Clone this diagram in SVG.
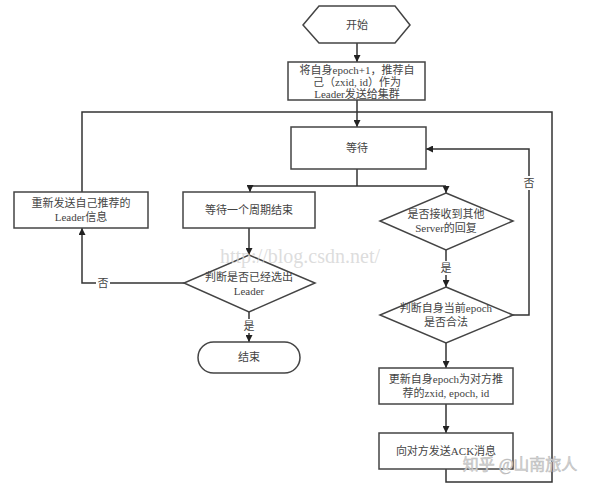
<svg xmlns="http://www.w3.org/2000/svg" width="600" height="488" viewBox="0 0 600 488">
<defs>
<marker id="arr" viewBox="0 0 10 10" refX="10" refY="5" markerWidth="7" markerHeight="7" markerUnits="userSpaceOnUse" orient="auto">
<path d="M0,0 L10,5 L0,10 z" fill="#222"/>
</marker>
<style>
.shape{fill:#fff;stroke:#444;stroke-width:1.5}
.line{fill:none;stroke:#333;stroke-width:1.5}
.t{font-family:"Liberation Serif","Noto Sans CJK SC",serif;font-size:11px;fill:#444;text-anchor:middle}
.wm{font-family:"Liberation Serif","Noto Sans CJK SC",serif;fill:#d4d4d4}
</style>
</defs>
<rect width="600" height="488" fill="#fff"/>
<g id="connectors">
<path class="line" d="M357,43 V62" marker-end="url(#arr)"/>
<path class="line" d="M357,100 V127" marker-end="url(#arr)"/>
<path class="line" d="M82,192 V112 H552 V482 H446 V469"/>
<path class="line" d="M357,169 V186"/>
<path class="line" d="M250,186 H446"/>
<path class="line" d="M250,186 V192" marker-end="url(#arr)"/>
<path class="line" d="M446,186 V193" marker-end="url(#arr)"/>
<path class="line" d="M249,228 V255" marker-end="url(#arr)"/>
<path class="line" d="M184,283 H82 V228" marker-end="url(#arr)"/>
<path class="line" d="M249,312 V342" marker-end="url(#arr)"/>
<path class="line" d="M446,250 V287" marker-end="url(#arr)"/>
<path class="line" d="M513,315 H529 V149 H426" marker-end="url(#arr)"/>
<path class="line" d="M446,343 V368" marker-end="url(#arr)"/>
<path class="line" d="M446,404 V433" marker-end="url(#arr)"/>
<rect x="96" y="276" width="14" height="14" fill="#fff"/>
<text class="t" x="103" y="287">否</text>
<rect x="242" y="319" width="14" height="14" fill="#fff"/>
<text class="t" x="249" y="330">是</text>
<rect x="439" y="261" width="14" height="14" fill="#fff"/>
<text class="t" x="446" y="272">是</text>
<rect x="522" y="176" width="14" height="14" fill="#fff"/>
<text class="t" x="529" y="187">否</text>
</g>
<g id="start">
<polygon class="shape" points="303,25 319,6 395,6 410,25 395,43 319,43"/>
<text class="t" x="357" y="29">开始</text>
</g>
<g id="broadcast">
<rect class="shape" x="288" y="62" width="137" height="38"/>
<text class="t" x="357" y="74">将自身epoch+1，推荐自</text>
<text class="t" x="357" y="86">己（zxid, id）作为</text>
<text class="t" x="357" y="98">Leader发送给集群</text>
</g>
<g id="wait">
<rect class="shape" x="291" y="127" width="135" height="42"/>
<text class="t" x="357" y="152">等待</text>
</g>
<g id="resend">
<rect class="shape" x="14" y="192" width="134" height="36"/>
<text class="t" x="81" y="207">重新发送自己推荐的</text>
<text class="t" x="81" y="221">Leader信息</text>
</g>
<g id="waitperiod">
<rect class="shape" x="183" y="192" width="132" height="36"/>
<text class="t" x="249" y="214">等待一个周期结束</text>
</g>
<g id="checkleader">
<polygon class="shape" points="249,255 315,283 249,312 184,283"/>
<text class="t" x="249" y="281">判断是否已经选出</text>
<text class="t" x="249" y="295">Leader</text>
</g>
<g id="end">
<rect class="shape" x="198" y="342" width="102" height="31" rx="15.5"/>
<text class="t" x="249" y="361">结束</text>
</g>
<g id="received">
<polygon class="shape" points="446,193 513,221 446,250 380,221"/>
<text class="t" x="446" y="218">是否接收到其他</text>
<text class="t" x="446" y="232">Server的回复</text>
</g>
<g id="checkepoch">
<polygon class="shape" points="446,287 513,315 446,343 380,315"/>
<text class="t" x="446" y="312">判断自身当前epoch</text>
<text class="t" x="446" y="326">是否合法</text>
</g>
<g id="update">
<rect class="shape" x="379" y="368" width="134" height="36"/>
<text class="t" x="446" y="383">更新自身epoch为对方推</text>
<text class="t" x="446" y="397">荐的zxid, epoch, id</text>
</g>
<g id="ack">
<rect class="shape" x="379" y="433" width="134" height="36"/>
<text class="t" x="446" y="455">向对方发送ACK消息</text>
</g>
<text class="wm" x="300" y="263" font-size="20" text-anchor="middle" fill-opacity="0.8">http://blog.csdn.net/</text>
<text class="wm" x="520" y="470" font-size="16" text-anchor="middle" fill="#e6e6e6" stroke="#bbb" stroke-width="0.5">知乎 @山南旅人</text>
</svg>
